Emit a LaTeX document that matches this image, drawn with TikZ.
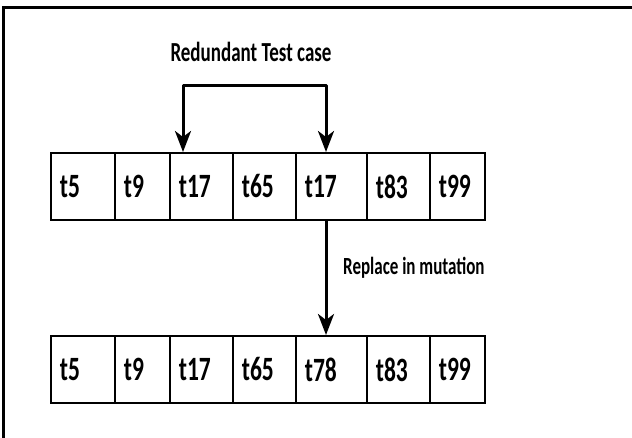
\documentclass[tikz,border=0pt]{standalone}
\usepackage{fontspec}
\setmainfont{Carlito}
\usepackage{graphicx}
\usetikzlibrary{arrows.meta, positioning, calc}
\tikzset{
    >={Stealth[length=21pt, width=16pt, inset=6pt]}
}
\newcommand{\tallbox}[1]{\scalebox{1}[1.45]{#1}}

\begin{document}
\begin{tikzpicture}[x=1pt, y=1pt,
    cell/.style={draw, line width=1.8pt, anchor=north west, minimum height=67pt,
        inner xsep=9pt, align=left, font=\bfseries\fontsize{23.5}{26}\selectfont},
    heavy/.style={line width=3pt, line join=round, ->},
    caption/.style={font=\bfseries\fontsize{19}{22}\selectfont}]
    \useasboundingbox (0, 0) rectangle (632, -438);
    % outer frame
    \draw[line width=3pt] (3, -8) rectangle (660, -470);
    % cells of both rows
    \foreach \i/\x/\w/\up/\dn in {1/50/64/t5/t5, 2/114/55/t9/t9, 3/169/63/t17/t17,
            4/232/63/t65/t65, 5/295/71/t17/t78, 6/366/63/t83/t83, 7/429/55/t99/t99}{
        \pgfmathsetmacro{\tw}{\w-18}
        \node[cell, minimum width=\w pt, text width=\tw pt] (u\i) at (\x, -152) {\tallbox{\up}};
        \node[cell, minimum width=\w pt, text width=\tw pt] (d\i) at (\x, -335) {\tallbox{\dn}};
    }
    % labels
    \node[caption] (title) at (251, -52) {\tallbox{Redundant Test case}};
    \node[caption, anchor=west, inner sep=0pt, font=\bfseries\fontsize{17}{20}\selectfont]
        (repl) at (343, -268) {\tallbox{Replace in mutation}};
    % arrows
    \coordinate (bl) at ([xshift=14pt]u3.north west);
    \coordinate (br) at ([xshift=31pt]u5.north west);
    \draw[heavy, <->] (bl) -- ++(0, 66) -| (br);
    \draw[heavy] ([xshift=31pt]u5.south west) -- ([xshift=31pt]d5.north west);
\end{tikzpicture}
\end{document}
